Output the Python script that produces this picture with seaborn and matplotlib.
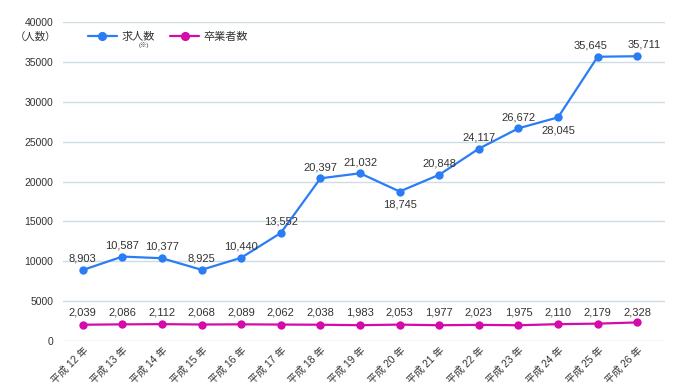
import matplotlib
matplotlib.use('Agg')
import matplotlib.pyplot as plt
import seaborn as sns
import pandas as pd

years = ['平成 12 年', '平成 13 年', '平成 14 年', '平成 15 年', '平成 16 年',
         '平成 17 年', '平成 18 年', '平成 19 年', '平成 20 年', '平成 21 年',
         '平成 22 年', '平成 23 年', '平成 24 年', '平成 25 年', '平成 26 年']
job_offers = [8903, 10587, 10377, 8925, 10440, 13552, 20397, 21032, 18745,
              20848, 24117, 26672, 28045, 35645, 35711]
graduates = [2039, 2086, 2112, 2068, 2089, 2062, 2038, 1983, 2053,
             1977, 2023, 1975, 2110, 2179, 2328]
below_labels = [8, 12]  # 18,745 and 28,045 sit under their points
nudge = {13: -5, 14: 5}  # the last two labels pushed apart a little

blue = '#2A7DF4'
magenta = '#D40BA9'
text_c = '#333333'

sns.set_style('white')
plt.rcParams['font.family'] = ['Liberation Sans', 'Noto Sans CJK JP', 'DejaVu Sans']

df = pd.DataFrame({'year': years, '求人数': job_offers, '卒業者数': graduates})
df['x'] = range(len(years))

fig = plt.figure(figsize=(7, 3.89), dpi=100)
ax = fig.add_axes([0.09, 0.1234, 0.86, 0.82])

sns.lineplot(data=df, x='x', y='求人数', ax=ax, color=blue, lw=1.6,
             marker='o', markersize=6, markeredgewidth=0, label='求人数')
sns.lineplot(data=df, x='x', y='卒業者数', ax=ax, color=magenta, lw=1.6,
             marker='o', markersize=6, markeredgewidth=0, label='卒業者数')

for i, v in enumerate(job_offers):
    dx = nudge.get(i, 0)
    if i in below_labels:
        ax.annotate(f'{v:,}', (i, v), xytext=(dx, -6), textcoords='offset points',
                    ha='center', va='top', fontsize=8, color=text_c)
    else:
        ax.annotate(f'{v:,}', (i, v), xytext=(dx, 4.5), textcoords='offset points',
                    ha='center', va='bottom', fontsize=8, color=text_c)
for i, v in enumerate(graduates):
    ax.annotate(f'{v:,}', (i, 2039), xytext=(0, 5), textcoords='offset points',
                ha='center', va='bottom', fontsize=8, color=text_c)

ax.set_xlim(-0.5, 14.7)
ax.set_ylim(0, 40000)
ax.set_yticks(range(0, 40001, 5000))
ax.set_xticks(df['x'])
ax.set_xticklabels(years, rotation=45, ha='right', rotation_mode='anchor',
                   fontsize=7.3, color=text_c)
ax.tick_params(axis='y', labelsize=7.5, colors=text_c, length=0, pad=7)
ax.tick_params(axis='x', length=0, pad=3)
ax.yaxis.grid(True, color='#CFDCE3', lw=1)
ax.set_axisbelow(True)
for s in ax.spines.values():
    s.set_visible(False)
ax.set_xlabel('')
ax.set_ylabel('')

fig.text(0.051, 0.905, '（人数）', fontsize=7.5, color=text_c, ha='center', va='center')

leg = ax.legend(loc='upper left', bbox_to_anchor=(0.025, 1.0), ncol=2, frameon=False,
                fontsize=8, handlelength=2.6, columnspacing=1.4, handletextpad=0.4,
                labelcolor=text_c, markerscale=1.1)
fig.text(0.205, 0.884, '(※)', fontsize=4.5, color=text_c, ha='center', va='center')

fig.savefig('out.png', dpi=100)
